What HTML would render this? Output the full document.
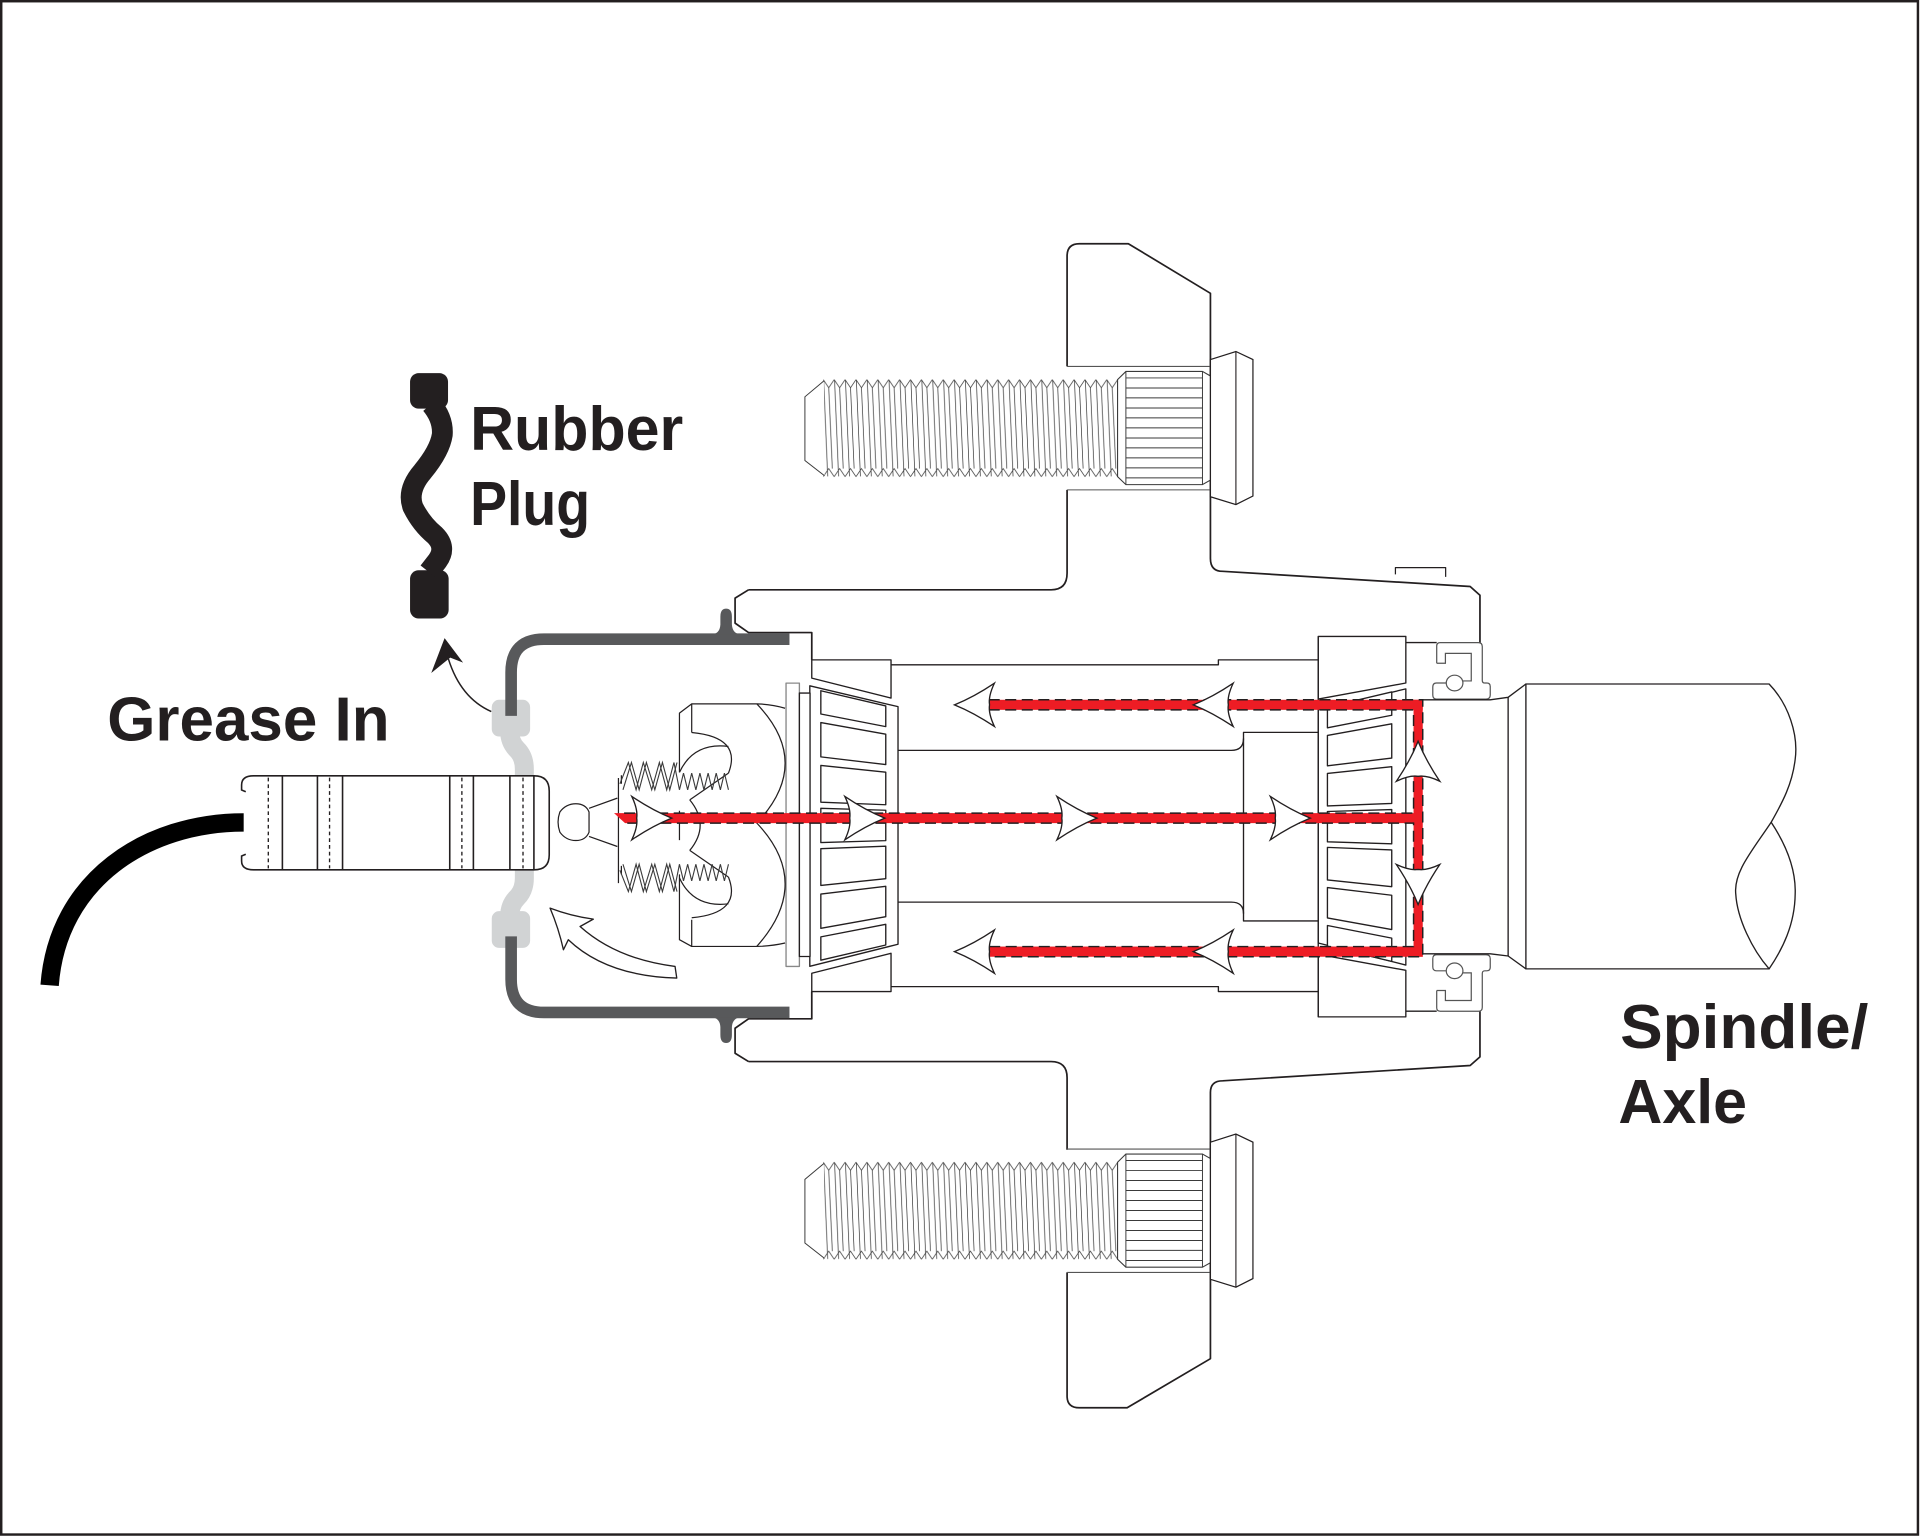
<!DOCTYPE html>
<html>
<head>
<meta charset="utf-8">
<style>
  html,body{margin:0;padding:0;background:#fff;}
  svg{display:block;}
</style>
</head>
<body>
<svg width="1921" height="1537" viewBox="0 0 1568 1255" preserveAspectRatio="none" xmlns="http://www.w3.org/2000/svg">
  <defs>
    <pattern id="thr" x="672" y="309.6" width="8.9" height="80" patternUnits="userSpaceOnUse">
      <path d="M0 0.4 L4.45 7 L8.9 0.4 M0 79.6 L4.45 73 L8.9 79.6 M0.3 0.6 L3.6 79.4 M4.45 7 L7.4 73" stroke="#3a3a3a" stroke-width="0.6" fill="none"/>
    </pattern>
    <path id="dart" d="M0 0 Q-16 -6.5 -32.6 -17.7 Q-27.5 -7 -28.6 0 Q-27.5 7 -32.6 17.7 Q-16 6.5 0 0 Z" fill="#fff" stroke="#231f20" stroke-width="1.1" stroke-linejoin="miter"/>
    <g id="bolt">
      <line x1="871" y1="299.2" x2="988" y2="299.2" stroke="#555" stroke-width="0.9"/>
      <line x1="871" y1="400" x2="988" y2="400" stroke="#555" stroke-width="0.9"/>
      <rect x="672" y="309.6" width="240" height="80" fill="#fff"/>
      <rect x="672" y="309.6" width="240" height="80" fill="url(#thr)"/>
      <path d="M672.5 311 L657 324 V376 L673 388.5" fill="#fff" stroke="#3a3a3a" stroke-width="0.8"/>
      <path d="M912.2 310 L919 303.3 H981.5 L988 307 V392 L981.5 395.7 H919 L912.2 389.2 Z" fill="#fff" stroke="#3a3a3a" stroke-width="0.9"/>
      <g stroke="#3a3a3a" stroke-width="0.8">
        <line x1="919" y1="303.3" x2="919" y2="395.7"/>
        <line x1="981.5" y1="303.3" x2="981.5" y2="395.7"/>
        <line x1="919" y1="308.6" x2="981.5" y2="308.6"/>
        <line x1="919" y1="316.8" x2="981.5" y2="316.8"/>
        <line x1="919" y1="324.9" x2="981.5" y2="324.9"/>
        <line x1="919" y1="333.1" x2="981.5" y2="333.1"/>
        <line x1="919" y1="341.2" x2="981.5" y2="341.2"/>
        <line x1="919" y1="349.4" x2="981.5" y2="349.4"/>
        <line x1="919" y1="357.6" x2="981.5" y2="357.6"/>
        <line x1="919" y1="365.7" x2="981.5" y2="365.7"/>
        <line x1="919" y1="373.9" x2="981.5" y2="373.9"/>
        <line x1="919" y1="382" x2="981.5" y2="382"/>
        <line x1="919" y1="390.2" x2="981.5" y2="390.2"/>
      </g>
      <path d="M988 293.6 L1008.8 287 L1022.7 293.6 V405 L1008.8 412 L988 405.6 Z" fill="#fff" stroke="#231f20" stroke-width="1"/>
      <line x1="1008.8" y1="287" x2="1008.8" y2="412" stroke="#231f20" stroke-width="0.9"/>
    </g>
    <g id="seal">
      <path d="M1172.7 541.6 V527.5 Q1172.7 524.7 1175.5 524.7 H1206.7 Q1209.9 524.7 1209.9 528 V555.5 Q1209.9 557.7 1212 557.7 H1213.5 Q1216.4 557.7 1216.4 560.5 V567.5 Q1216.4 570.8 1213 570.8 H1172.5 Q1169.5 570.8 1169.5 567.5 V561 Q1169.5 557.7 1172.5 557.7 H1180.5" fill="#fff" stroke="#555" stroke-width="1"/>
      <path d="M1172.7 541.6 H1179.8 V533.5 H1200.9 V556 H1194" fill="none" stroke="#555" stroke-width="1"/>
      <ellipse cx="1187.3" cy="557.7" rx="6.8" ry="6.4" fill="#fff" stroke="#555" stroke-width="1"/>
    </g>
  </defs>

  <!-- border -->
  <rect x="1" y="1" width="1564.5" height="1252" fill="none" stroke="#231f20" stroke-width="2"/>

  <!-- hub outline -->
  <g fill="none" stroke="#231f20" stroke-width="1.4" stroke-linejoin="round">
    <path d="M611 481.6 H858 Q871 481.6 871 468 V400"/>
    <path d="M871 299.2 V209 Q871 199 881 199 H921 L988 239.5 V456 Q988 466.5 998 466.5 L1200 478.9 L1208 486 V524.7"/>
    <path d="M611 866.8 H858 Q871 866.8 871 880 V938.8"/>
    <path d="M871 1038.9 V1140 Q871 1149.5 881 1149.5 H920 L988 1109.4 V892 Q988 882.5 998 882.5 L1200 870 L1208 863 V825.8"/>
    <path d="M611 481.6 L600 488.4 V508.8 L611 516.5 H662.6 V538.8"/>
    <path d="M611 866.8 L600 860 V839.6 L611 831.9 H662.6 V809.6"/>
    <path d="M1139 469 V463.5 H1180 V471" stroke-width="1"/>
  </g>

  <!-- bolts -->
  <use href="#bolt"/>
  <use href="#bolt" transform="translate(0,639)"/>

  <!-- inner hub lines -->
  <g fill="none" stroke="#231f20" stroke-width="1.1" stroke-linejoin="round">
    <path d="M727.3 542.8 H994.5 V538.8 H1076"/>
    <path d="M727.3 805.6 H994.5 V809.6 H1076"/>
    <path d="M733 612.7 H1005 Q1015 612.7 1015 603 V598 H1076"/>
    <path d="M733 736.6 H1005 Q1015 736.6 1015 746 V752 H1076"/>
    <path d="M1015 603 V746"/>
    <path d="M662.6 538.8 H727.3 V570 L662.6 553.7 Z" fill="#fff"/>
    <path d="M662.6 809.6 H727.3 V778.4 L662.6 794.7 Z" fill="#fff"/>
    <path d="M661 560 L733 577 V771 L661 789 Z" fill="#fff"/>
    <rect x="641.6" y="557.8" width="10.9" height="231.3" stroke="#888" fill="#fff"/>
    <rect x="652.5" y="565.9" width="8.7" height="215.1" fill="#fff"/>
    <path d="M1076 519.7 H1147.5 V557.7 L1076 570.8 Z" fill="#fff"/>
    <path d="M1076 830.3 H1147.5 V792.3 L1076 779.2 Z" fill="#fff"/>
    <path d="M1076 579.5 L1147.5 562.5 V788 L1076 770 Z" fill="#fff"/>
    <path d="M1076 519.7 V830.3"/>
    <path d="M1147.5 524.7 H1172.7"/>
    <path d="M1147.5 825.7 H1172.7"/>
  </g>

  <!-- rollers -->
  <g fill="#fff" stroke="#231f20" stroke-width="1.1" stroke-linejoin="round">
    <path d="M670 564 L723 576.4 L723 593.3 L670 583 Z"/>
    <path d="M670 590 L723 599.5 L723 624.3 L670 618 Z"/>
    <path d="M670 625 L723 630.5 L723 657.1 L670 655 Z"/>
    <path d="M670 660 L723 661.6 L723 686.4 L670 688 Z"/>
    <path d="M670 693 L723 690.9 L723 717.5 L670 723 Z"/>
    <path d="M670 730 L723 723.7 L723 748.5 L670 758 Z"/>
    <path d="M670 765 L723 754.7 L723 771.6 L670 784 Z"/>

    <path d="M1083.5 577.4 L1136 565 L1136 584 L1083.5 594.3 Z"/>
    <path d="M1083.5 600.5 L1136 591 L1136 619 L1083.5 625.3 Z"/>
    <path d="M1083.5 631.5 L1136 626 L1136 656 L1083.5 658.1 Z"/>
    <path d="M1083.5 662.6 L1136 661 L1136 689 L1083.5 687.4 Z"/>
    <path d="M1083.5 691.9 L1136 694 L1136 724 L1083.5 718.5 Z"/>
    <path d="M1083.5 724.7 L1136 731 L1136 759 L1083.5 749.5 Z"/>
    <path d="M1083.5 755.7 L1136 766 L1136 785 L1083.5 772.6 Z"/>
  </g>

  <!-- seals -->
  <use href="#seal"/>
  <use href="#seal" transform="translate(0,1350.4) scale(1,-1)"/>

  <!-- spindle -->
  <g fill="none" stroke="#231f20" stroke-width="1.1" stroke-linejoin="round">
    <path d="M1161.5 571.4 H1216.4 L1231 569.4 L1245.5 558.5"/>
    <path d="M1161.5 778.8 H1216.4 L1231 780.6 L1245.5 791.1"/>
    <path d="M1231 569.4 V780.6"/>
    <path d="M1245.5 558.5 H1444 C1460 575 1468 600 1465.3 620 C1463 640 1455 655 1445.7 671.4 C1430 695 1415 712 1416.8 730 C1418 750 1430 775 1444 791.1 H1245.5 Z" fill="#fff"/>
    <path d="M1445.7 671.4 C1458 690 1466 710 1465.3 730 C1465 755 1455 775 1444 791.1"/>
  </g>

  <!-- castle nut & threads -->
  <g fill="none" stroke="#231f20" stroke-width="1" stroke-linejoin="round">
    <path d="M554.6 630.7 V582.3 L564.6 574.7 H617.7 Q630 575 640.8 578.3"/>
    <path d="M564.6 574.7 V598.1"/>
    <path d="M617.7 574.7 Q664 623 617.7 672 Q664 721 617.7 772.8"/>
    <path d="M554.6 714 V767.3 L564.6 772.8 H617.7 Q630 772.5 640.8 770"/>
    <path d="M564.6 751 V772.8"/>
    <path d="M564.6 598.1 Q606 602 594.6 631.3"/>
    <path d="M554.6 630.7 Q566 606 594.6 609.5"/>
    <path d="M564.6 749.4 Q606 745.5 594.6 716.2"/>
    <path d="M554.6 716.8 Q566 741.5 594.6 738"/>
    <path d="M594.6 631.3 L563 653.1"/>
    <path d="M594.6 716.2 L563 694.4"/>
    <path d="M563 653.1 Q580 673.75 563 694.4"/>
    <path d="M554.6 662 V686"/>
    <path d="M504.8 635.3 V721.1 M507.2 633 V640 M507.2 707 V714"/>
  </g>
  <g id="thrUp" fill="none" stroke="#3a3a3a" stroke-width="0.9" stroke-linejoin="miter">
    <path d="M506 640 L512.9 622.6 L519.2 644.9 L525.1 622.6 L531.97 644.9 L538.2 622.6 L544.2 644.9 L550.1 622.6 L554.6 644.9"/>
    <path d="M508.5 644.9 L515.4 622.6 L521.7 644.9 L527.6 622.6 L534.5 644.9 L540.7 622.6 L546.7 644.9 L552.6 622.6"/>
    <path d="M554.6 644.9 L557.9 631.3 L561.3 644.9 L564.6 631.3 L568 644.9 L571.3 631.3 L574.6 644.9 L578 631.3 L581.3 644.9 L584.6 631.3 L588 644.9 L591.3 631.3 L594.6 644.9"/>
  </g>
  <use href="#thrUp" transform="translate(0,1350.6) scale(1,-1)"/>

  <!-- zerk -->
  <g fill="#fff" stroke="#231f20" stroke-width="1">
    <path d="M480.8 660 L503.9 651.7 M480.8 683 L503.9 691.2" fill="none"/>
    <path d="M457 663 Q462 656.3 470 656.3 Q478 656.3 480.8 663 V679.5 Q478 686.3 470 686.3 Q462 686.3 457 679.5 Q454 671.3 457 663 Z"/>
  </g>

  <!-- gray plug in cap -->
  <g fill="#d1d3d4">
    <rect x="401.4" y="571.4" width="31.3" height="30" rx="6"/>
    <rect x="401.4" y="744" width="31.3" height="30" rx="6"/>
    <path d="M416 597 Q416 606 422 612 Q428 618 428 628 V717 Q428 727 422 733 Q416 739 416 748" fill="none" stroke="#d1d3d4" stroke-width="15.5" stroke-linejoin="round"/>
  </g>

  <!-- grease cap -->
  <g fill="none" stroke="#58595b" stroke-width="9.5" stroke-linejoin="round">
    <path d="M417.2 584.5 V549 Q417.2 521.9 444 521.9 H644.4"/>
    <path d="M417.2 764.6 V799.7 Q417.2 826.7 444 826.7 H644.4"/>
  </g>
  <path d="M580 518 Q587.5 518 588 510 V503.5 Q588 497 592.7 497 Q597.4 497 597.4 503.5 V510 Q598 518 605.5 518 Z" fill="#58595b"/>
  <path d="M580 830.6 Q587.5 830.6 588 838.6 V845 Q588 851.6 592.7 851.6 Q597.4 851.6 597.4 845 V838.6 Q598 830.6 605.5 830.6 Z" fill="#58595b"/>

  <!-- hose -->
  <path d="M199 671.5 C120 671.5 47 718 40.5 804.5" fill="none" stroke="#000" stroke-width="15"/>

  <!-- coupler -->
  <rect x="199" y="633.5" width="249.3" height="76.7" rx="12" fill="#fff"/>
  <path d="M200.6 646.5 L197.2 645 V641 Q197.2 633.5 207 633.5 H436 Q448.3 633.5 448.3 646 V698 Q448.3 710.2 436 710.2 H207 Q197.2 710.2 197.2 703 V699 L200.6 697.5" fill="none" stroke="#231f20" stroke-width="1.3"/>
  <g stroke="#231f20" stroke-width="1.3">
    <line x1="230.5" y1="633.5" x2="230.5" y2="710.2"/>
    <line x1="259.1" y1="633.5" x2="259.1" y2="710.2"/>
    <line x1="279.6" y1="633.5" x2="279.6" y2="710.2"/>
    <line x1="367.1" y1="633.5" x2="367.1" y2="710.2"/>
    <line x1="386.4" y1="633.5" x2="386.4" y2="710.2"/>
    <line x1="416.2" y1="633.5" x2="416.2" y2="710.2"/>
    <line x1="435.8" y1="633.5" x2="435.8" y2="710.2"/>
  </g>
  <g stroke="#231f20" stroke-width="1.1" stroke-dasharray="3 2.5">
    <line x1="219" y1="635" x2="219" y2="709"/>
    <line x1="269" y1="635" x2="269" y2="709"/>
    <line x1="377" y1="635" x2="377" y2="709"/>
    <line x1="426.9" y1="635" x2="426.9" y2="709"/>
  </g>

  <!-- removed rubber plug -->
  <g fill="#231f20">
    <rect x="334.7" y="304.7" width="31" height="29" rx="7"/>
    <rect x="334.7" y="465.6" width="31.5" height="39.4" rx="7"/>
    <path d="M352 330 Q362 342 361 355 Q359 368 345 385 Q332 400 337 414 Q344 428 355 437 Q365 447 357 458 L350 467" fill="none" stroke="#231f20" stroke-width="17" stroke-linejoin="round"/>
  </g>

  <!-- arrow to removed plug -->
  <path d="M401 581 Q376 570 366 538" fill="none" stroke="#231f20" stroke-width="1.2"/>
  <path d="M362.9 521 L378 541 L367.5 537 L352 549.5 Z" fill="#231f20"/>

  <!-- curved white arrow -->
  <path d="M449 741.5 Q466 748 484.3 750.5 L473.5 756.5 Q503 783 551 789.1 L552.4 798.6 Q495 797 463.9 767.3 L459.9 775.5 Q456 758 449 741.5 Z" fill="#fff" stroke="#231f20" stroke-width="1.1" stroke-linejoin="round"/>

  <!-- red grease flow -->
  <g fill="#ed1c24">
    <rect x="807" y="571.4" width="354.3" height="8.2"/>
    <rect x="1153.8" y="571.4" width="7.5" height="209.8"/>
    <path d="M501.2 663.9 H1161.3 V672.1 H510.2 Z"/>
    <rect x="806" y="772.9" width="355.3" height="8.3"/>
  </g>
  <g stroke="#231f20" stroke-width="1.2" stroke-dasharray="9 4.5" fill="none">
    <path d="M807 571.4 H1161.3 V781.2 H806"/>
    <path d="M807 579.6 H1153.8 V663.9 H506"/>
    <path d="M512 672.1 H1153.8 V772.9 H806"/>
  </g>

  <!-- flow arrowheads -->
  <use href="#dart" transform="translate(779.1,575.5) rotate(180)"/>
  <use href="#dart" transform="translate(974,575.5) rotate(180)"/>
  <use href="#dart" transform="translate(779.1,777) rotate(180)"/>
  <use href="#dart" transform="translate(974,777) rotate(180)"/>
  <use href="#dart" transform="translate(548.3,668)"/>
  <use href="#dart" transform="translate(722.2,668)"/>
  <use href="#dart" transform="translate(895.3,668)"/>
  <use href="#dart" transform="translate(1069.5,668)"/>
  <use href="#dart" transform="translate(1157.5,605.3) rotate(-90)"/>
  <use href="#dart" transform="translate(1157.5,738.5) rotate(90)"/>

  <!-- labels -->
  <g font-family="'Liberation Sans', sans-serif" font-weight="bold" font-size="51" fill="#231f20">
    <text x="383.7" y="367.3" textLength="174" lengthAdjust="spacingAndGlyphs">Rubber</text>
    <text x="383.7" y="428.6" textLength="98" lengthAdjust="spacingAndGlyphs">Plug</text>
    <text x="87.5" y="604.6" textLength="230.5" lengthAdjust="spacingAndGlyphs">Grease In</text>
    <text x="1322.4" y="855.8" textLength="202.7" lengthAdjust="spacingAndGlyphs">Spindle/</text>
    <text x="1321" y="917" textLength="105" lengthAdjust="spacingAndGlyphs">Axle</text>
  </g>
</svg>
</body>
</html>
